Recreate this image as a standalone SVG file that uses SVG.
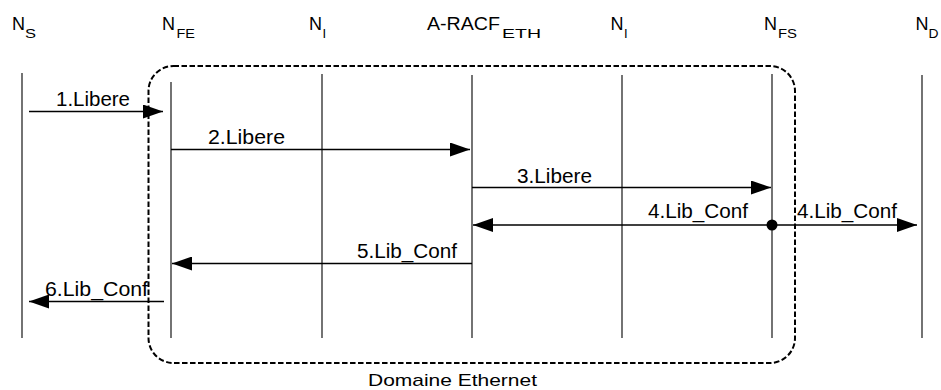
<svg xmlns="http://www.w3.org/2000/svg" width="941" height="390" viewBox="0 0 941 390">
<style>
text{font-family:"Liberation Sans",Arial,sans-serif;fill:#000}
.n{font-size:18px}
.sub{font-size:13px}
.lbl{font-size:19.5px}
.life{stroke:#000;stroke-width:1.1;fill:none}
.msg{stroke:#000;stroke-width:1.3;fill:none}
.box{stroke:#000;stroke-width:2;fill:none;stroke-dasharray:5.5 2.5}
</style>
<defs>
<marker id="ah" viewBox="0 0 20 14" refX="20" refY="7" markerWidth="20" markerHeight="14" markerUnits="userSpaceOnUse" orient="auto">
<path d="M0,0 L20,7 L0,14 Z" fill="#000"/>
</marker>
</defs>
<rect width="941" height="390" fill="#fff"/>

<g id="domain">
<rect class="box" x="148.5" y="66" width="646.5" height="297" rx="25" ry="25"/>
<text x="368" y="385.5" style="font-size:17px" textLength="169" lengthAdjust="spacingAndGlyphs">Domaine Ethernet</text>
</g>

<g id="node-NS">
<line class="life" x1="22" y1="73" x2="22" y2="338"/>
<text class="n" x="12" y="29.5">N</text><text class="sub" x="25" y="38" textLength="11" lengthAdjust="spacingAndGlyphs">S</text>
</g>
<g id="node-NFE">
<line class="life" x1="171" y1="82" x2="171" y2="338"/>
<text class="n" x="162" y="29.5">N</text><text class="sub" x="176.5" y="38" textLength="18.5" lengthAdjust="spacingAndGlyphs">FE</text>
</g>
<g id="node-NI1">
<line class="life" x1="322" y1="74" x2="322" y2="338"/>
<text class="n" x="309" y="29.5">N</text><text class="sub" x="322.5" y="38">I</text>
</g>
<g id="node-ARACF">
<line class="life" x1="472" y1="75" x2="472" y2="338"/>
<text class="n" x="427" y="30" textLength="73" lengthAdjust="spacingAndGlyphs">A-RACF</text><text class="sub" x="502" y="38" textLength="39" lengthAdjust="spacingAndGlyphs">ETH</text>
</g>
<g id="node-NI2">
<line class="life" x1="622" y1="75" x2="622" y2="338"/>
<text class="n" x="610.5" y="29.5">N</text><text class="sub" x="624" y="38">I</text>
</g>
<g id="node-NFS">
<line class="life" x1="772" y1="74" x2="772" y2="338"/>
<text class="n" x="764" y="29.5">N</text><text class="sub" x="778" y="38" textLength="19" lengthAdjust="spacingAndGlyphs">FS</text>
</g>
<g id="node-ND">
<line class="life" x1="922" y1="75" x2="922" y2="338"/>
<text class="n" x="915.5" y="29.5">N</text><text class="sub" x="928.5" y="38" textLength="10" lengthAdjust="spacingAndGlyphs">D</text>
</g>

<g id="connectors">
<line class="msg" x1="29" y1="111.5" x2="163" y2="111.5" marker-end="url(#ah)"/>
<text class="lbl" x="56" y="105.5" textLength="74" lengthAdjust="spacingAndGlyphs">1.Libere</text>

<line class="msg" x1="171" y1="149.5" x2="470" y2="149.5" marker-end="url(#ah)"/>
<text class="lbl" x="208" y="144" textLength="77" lengthAdjust="spacingAndGlyphs">2.Libere</text>

<line class="msg" x1="472" y1="187.5" x2="771" y2="187.5" marker-end="url(#ah)"/>
<text class="lbl" x="517" y="183.3" textLength="75" lengthAdjust="spacingAndGlyphs">3.Libere</text>

<line class="msg" x1="772" y1="225" x2="473" y2="225" marker-end="url(#ah)"/>
<text class="lbl" x="648" y="218.3" textLength="100" lengthAdjust="spacingAndGlyphs">4.Lib_Conf</text>
<line class="msg" x1="772" y1="225" x2="917" y2="225" marker-end="url(#ah)"/>
<text class="lbl" x="797" y="218.3" textLength="100" lengthAdjust="spacingAndGlyphs">4.Lib_Conf</text>
<circle cx="772" cy="225" r="5.5" fill="#000"/>

<line class="msg" x1="472" y1="263.5" x2="172" y2="263.5" marker-end="url(#ah)"/>
<text class="lbl" x="357" y="258.3" textLength="100" lengthAdjust="spacingAndGlyphs">5.Lib_Conf</text>

<line class="msg" x1="164" y1="301.5" x2="29" y2="301.5" marker-end="url(#ah)"/>
<text class="lbl" x="45" y="296" textLength="103" lengthAdjust="spacingAndGlyphs">6.Lib_Conf</text>
</g>
</svg>
